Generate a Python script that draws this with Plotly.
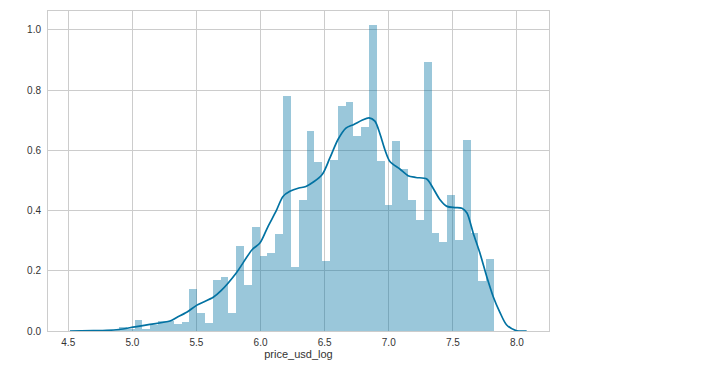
import plotly.graph_objects as go

# Histogram (density) data: 50 equal bins between bin_min and bin_max
bin_min = 4.774
bin_max = 7.821
n_bins = 50
bar_heights = [
    0.003, 0.003, 0.013, 0.005, 0.037, 0.007, 0.020, 0.033, 0.033, 0.024,
    0.030, 0.140, 0.060, 0.027, 0.170, 0.180, 0.060, 0.283, 0.153, 0.346,
    0.250, 0.260, 0.323, 0.782, 0.214, 0.434, 0.666, 0.562, 0.234, 0.569,
    0.749, 0.762, 0.647, 0.679, 1.015, 0.566, 0.417, 0.632, 0.539, 0.436,
    0.369, 0.892, 0.324, 0.297, 0.453, 0.303, 0.636, 0.324, 0.167, 0.240,
]

# KDE curve
kde_x = [4.513, 4.695, 4.800, 4.896, 5.020, 5.137, 5.293, 5.346, 5.424, 5.504,
         5.631, 5.690, 5.809, 5.934, 5.995, 6.058, 6.120, 6.175, 6.229, 6.299,
         6.354, 6.479, 6.541, 6.604, 6.666, 6.728, 6.791, 6.846, 6.892, 6.931,
         6.970, 7.009, 7.087, 7.150, 7.212, 7.296, 7.345, 7.400, 7.454, 7.516,
         7.571, 7.610, 7.659, 7.711, 7.764, 7.815, 7.867, 7.920, 7.998, 8.076]
kde_y = [0.000, 0.001, 0.002, 0.005, 0.014, 0.022, 0.033, 0.045, 0.062, 0.086,
         0.112, 0.133, 0.192, 0.270, 0.292, 0.347, 0.397, 0.447, 0.464, 0.475,
         0.480, 0.519, 0.575, 0.636, 0.674, 0.686, 0.700, 0.708, 0.697, 0.655,
         0.602, 0.563, 0.538, 0.516, 0.510, 0.505, 0.475, 0.436, 0.414, 0.410,
         0.408, 0.392, 0.325, 0.259, 0.181, 0.114, 0.062, 0.020, 0.001, 0.000]

x_ticks = [4.5, 5.0, 5.5, 6.0, 6.5, 7.0, 7.5, 8.0]
y_ticks = [0.0, 0.2, 0.4, 0.6, 0.8, 1.0]
x_label = "price_usd_log"

bin_w = (bin_max - bin_min) / n_bins
bar_x = [bin_min + (k + 0.5) * bin_w for k in range(n_bins)]

fig = go.Figure()
fig.add_trace(go.Bar(
    x=bar_x, y=bar_heights, width=bin_w,
    marker=dict(color="rgba(2,114,162,0.4)", line=dict(width=0)),
    hoverinfo="skip", showlegend=False,
))
fig.add_trace(go.Scatter(
    x=kde_x, y=kde_y, mode="lines",
    line=dict(color="#0272a2", width=1.7, shape="spline", smoothing=0.8),
    showlegend=False,
))

font = dict(family="Liberation Sans, Arial, sans-serif", size=10, color="#333333")
fig.update_layout(
    width=702, height=386,
    margin=dict(l=40, r=161, t=3, b=63, autoexpand=False),
    plot_bgcolor="white", paper_bgcolor="white",
    bargap=0, font=font,
    xaxis=dict(
        range=[4.342, 8.250], tickvals=x_ticks, tickformat=".1f",
        showgrid=True, gridcolor="#cccccc", gridwidth=1,
        showline=True, linecolor="#cccccc", linewidth=1, mirror=True,
        zeroline=False, ticks="", ticklabelstandoff=2,
        title=dict(text=x_label, font=dict(size=11, color="#333333"), standoff=3),
    ),
    yaxis=dict(
        range=[0, 1.063], tickvals=y_ticks, tickformat=".1f",
        showgrid=True, gridcolor="#cccccc", gridwidth=1,
        showline=True, linecolor="#cccccc", linewidth=1, mirror=True,
        zeroline=False, ticks="", ticklabelstandoff=4,
    ),
)

fig.write_html("out.html")
